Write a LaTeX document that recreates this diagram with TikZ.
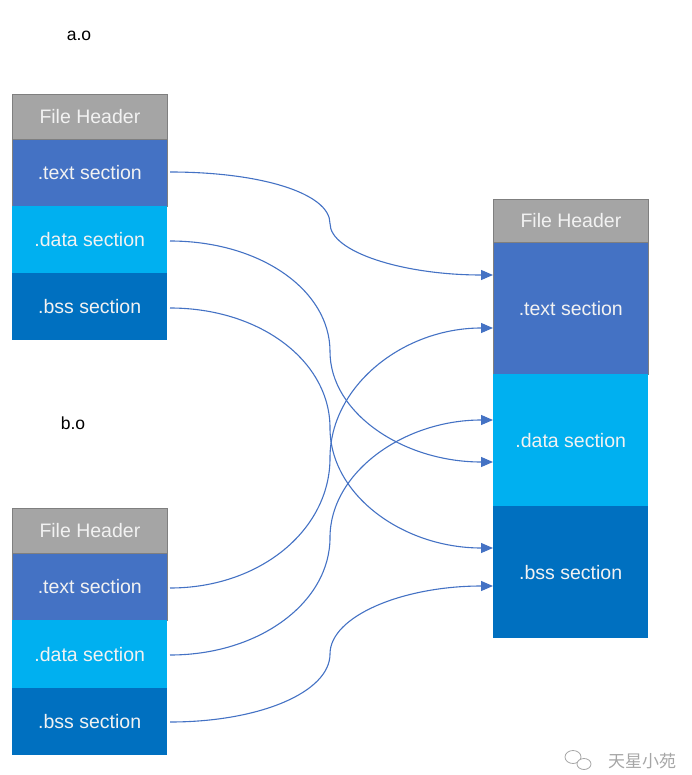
\documentclass[tikz,border=0pt]{standalone}
\usepackage{fontspec}
\setmainfont{Liberation Sans}
\newfontfamily\cjk{Noto Sans CJK SC}
\usetikzlibrary{arrows.meta}
\definecolor{hdr}{HTML}{A5A5A5}
\definecolor{hdrline}{HTML}{7F7F7F}
\definecolor{txtc}{HTML}{4472C4}
\definecolor{datc}{HTML}{00B0F0}
\definecolor{bssc}{HTML}{0070C0}
\definecolor{linkc}{HTML}{4472C4}
\definecolor{wm}{HTML}{A6A6A6}
\tikzset{
  sec/.style={rectangle, minimum width=155pt, inner sep=0pt, anchor=north west,
    text=white!95!black, font=\fontsize{19.5}{21}\selectfont},
  hdrbox/.style={sec, fill=hdr, draw=hdrline, line width=0.8pt, minimum height=45pt},
  txtbox/.style={sec, fill=txtc, draw=hdrline, line width=0.6pt},
  datbox/.style={sec, fill=datc},
  bssbox/.style={sec, fill=bssc},
  link/.style={draw=linkc, line width=1.1pt, -{Triangle[length=12pt,width=10pt]}},
  lbl/.style={font=\fontsize{17.5}{19}\selectfont}
}
\begin{document}
\begin{tikzpicture}[x=1pt,y=-1pt]
\useasboundingbox (0,0) rectangle (691,775);
% a.o
\node[lbl] (la) at (79,36) {a.o};
\node[hdrbox] (ah) at (12,94) {File Header};
\node[txtbox, minimum height=67pt] (at) at (12,139) {.text section};
\node[datbox, minimum height=67pt] (ad) at (12,206) {.data section};
\node[bssbox, minimum height=67pt] (ab) at (12,273) {.bss section};
% b.o
\node[lbl] (lb) at (73,423) {b.o};
\node[hdrbox] (bh) at (12,508) {File Header};
\node[txtbox, minimum height=67pt] (bt) at (12,553) {.text section};
\node[datbox, minimum height=68pt] (bd) at (12,620) {.data section};
\node[bssbox, minimum height=67pt] (bb) at (12,688) {.bss section};
% output
\node[hdrbox, minimum height=43pt] (oh) at (493,199) {File Header};
\node[txtbox, minimum height=132pt] (ot) at (493,242) {.text section};
\node[datbox, minimum height=132pt] (od) at (493,374) {.data section};
\node[bssbox, minimum height=132pt] (ob) at (493,506) {.bss section};
% end points
\coordinate (t1) at (493,275);
\coordinate (t2) at (493,328);
\coordinate (t3) at (493,420);
\coordinate (t4) at (493,462);
\coordinate (t5) at (493,548);
\coordinate (t6) at (493,586);
\coordinate (s1) at (170,172);
\coordinate (s2) at (170,241);
\coordinate (s3) at (170,308);
\coordinate (s4) at (170,588);
\coordinate (s5) at (170,655);
\coordinate (s6) at (170,722);
\coordinate (m1) at (330,223.5);
\coordinate (m2) at (330,351.5);
\coordinate (m3) at (330,428);
\coordinate (m4) at (330,458);
\coordinate (m5) at (330,537.5);
\coordinate (m6) at (330,654);
% links
\draw[link] (s1) .. controls (260,172) and (330,193) .. (m1)
               .. controls (330,252) and (403,275) .. (t1);
\draw[link] (s2) .. controls (260,241) and (330,290) .. (m2)
               .. controls (330,413) and (403,462) .. (t4);
\draw[link] (s3) .. controls (260,308) and (330,361) .. (m3)
               .. controls (330,495) and (403,548) .. (t5);
\draw[link] (s4) .. controls (260,588) and (330,530) .. (m4)
               .. controls (330,386) and (403,328) .. (t2);
\draw[link] (s5) .. controls (260,655) and (330,602) .. (m5)
               .. controls (330,473) and (403,420) .. (t3);
\draw[link] (s6) .. controls (260,722) and (330,692) .. (m6)
               .. controls (330,616) and (403,586) .. (t6);
% watermark
\node[font=\cjk\fontsize{17}{19}\selectfont, text=wm] (wmt) at (642,761) {天星小苑};
\draw[wm, line width=0.8pt] (573,757) ellipse [x radius=8pt, y radius=6.5pt];
\draw[wm, line width=0.8pt, fill=white] (584,764) ellipse [x radius=7pt, y radius=5.5pt];
\end{tikzpicture}
\end{document}
